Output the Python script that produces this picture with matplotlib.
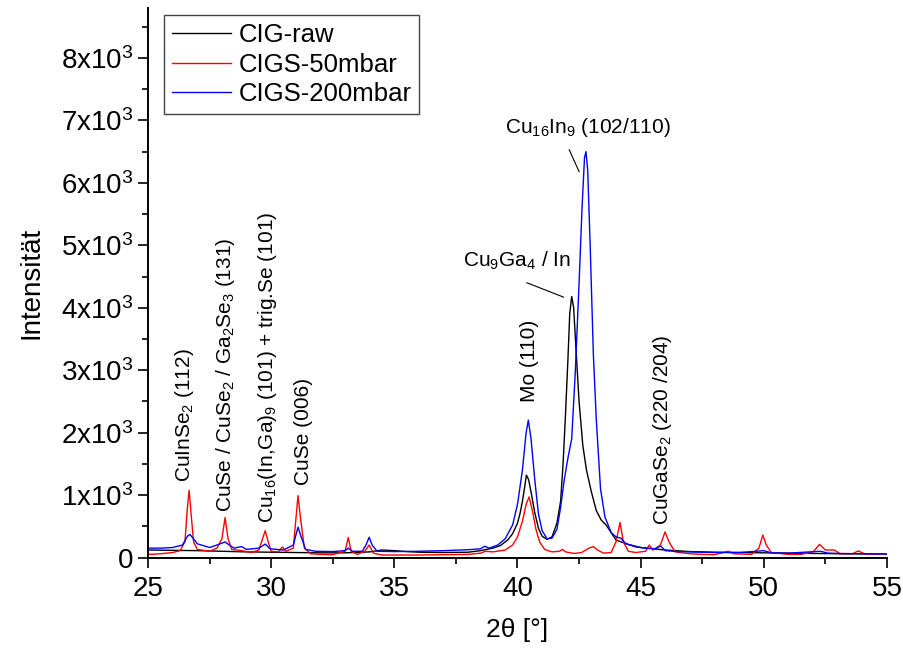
import matplotlib
matplotlib.use("Agg")
import matplotlib.pyplot as plt
from matplotlib.ticker import MultipleLocator

plt.rcParams['font.family'] = ['Liberation Sans', 'DejaVu Sans']
plt.rcParams['mathtext.fontset'] = 'custom'
plt.rcParams['mathtext.rm'] = 'Liberation Sans'
plt.rcParams['mathtext.it'] = 'Liberation Sans:italic'
plt.rcParams['mathtext.bf'] = 'Liberation Sans:bold'

# CIG-raw
x_raw = [25, 26, 27, 28, 29, 30, 31, 32, 33, 34, 34.5, 35, 35.5, 36, 37, 38, 38.5, 39, 39.3,
         39.6, 39.8, 40.0, 40.1, 40.2, 40.3, 40.36, 40.45, 40.55, 40.7, 40.85, 41.0, 41.2,
         41.4, 41.6, 41.75, 41.85, 41.95, 42.05, 42.12, 42.2, 42.28, 42.38, 42.5, 42.65,
         42.8, 43.0, 43.2, 43.4, 43.6, 43.8, 44.0, 44.5, 45, 46, 47, 48, 50, 52, 55]
y_raw = [120, 115, 110, 100, 90, 85, 80, 75, 75, 90, 120, 110, 95, 85, 80, 85, 110, 150, 190,
         280, 380, 550, 700, 900, 1150, 1320, 1250, 1050, 720, 470, 340, 290,
         330, 550, 900, 1500, 2300, 3200, 3900, 4180, 4000, 3300, 2500, 1800,
         1400, 1050, 750, 600, 520, 400, 280, 210, 160, 120, 95, 85, 75, 65, 55]

# CIGS-50mbar
x_50 = [25, 25.5, 26, 26.3, 26.5, 26.6, 26.67, 26.75, 26.85, 27, 27.5, 27.8, 28.0, 28.13,
        28.25, 28.4, 28.8, 29.2, 29.5, 29.65, 29.76, 29.88, 30.0, 30.3, 30.45, 30.6, 30.9,
        31.0, 31.09, 31.2, 31.35, 31.6, 32, 32.5, 33.0, 33.13, 33.25, 33.5, 33.8, 33.98,
        34.15, 34.5, 35, 36, 37, 38, 38.5, 38.7, 39, 39.5, 39.8, 40.0, 40.2, 40.35, 40.47,
        40.6, 40.75, 40.9, 41.1, 41.4, 41.7, 41.83, 41.95, 42.3, 42.6, 42.9, 43.08, 43.25,
        43.5, 43.8, 44.0, 44.16, 44.3, 44.5, 44.8, 45.2, 45.35, 45.5, 45.8, 45.99, 46.15,
        46.4, 47, 47.5, 48, 48.55, 48.8, 49.5, 49.8, 49.96, 50.1, 50.3, 51, 51.5, 52.0,
        52.26, 52.5, 52.86, 53.1, 53.6, 53.83, 54.1, 55]
y_50 = [50, 60, 80, 110, 250, 800, 1077, 700, 250, 130, 100, 150, 300, 640,
        300, 130, 110, 80, 120, 300, 430, 250, 100, 90, 170, 100, 150,
        600, 990, 600, 150, 60, 50, 45, 100, 320, 100, 50, 100, 200,
        70, 40, 40, 40, 45, 50, 70, 100, 90, 120, 200, 330, 580, 850, 970,
        760, 450, 250, 130, 90, 100, 130, 90, 65, 80, 150, 175, 120,
        70, 80, 250, 560, 250, 100, 80, 100, 200, 120, 200, 410, 250,
        90, 60, 50, 45, 100, 60, 50, 150, 360, 200, 80, 50, 50, 90,
        210, 120, 120, 60, 60, 105, 60, 50]

# CIGS-200mbar
x_200 = [25, 25.5, 26, 26.4, 26.6, 26.7, 26.85, 27.0, 27.5, 27.8, 28.0, 28.13, 28.3, 28.5,
         28.8, 29.0, 29.5, 29.76, 29.95, 30.5, 30.9, 31.09, 31.2, 31.4, 31.8, 32.5, 33.0,
         33.13, 33.3, 33.7, 33.85, 33.98, 34.1, 34.3, 35, 36, 37, 38, 38.5, 38.67, 38.85,
         39.2, 39.5, 39.8, 40.0, 40.2, 40.35, 40.44, 40.55, 40.7, 40.85, 41.0, 41.2, 41.4,
         41.6, 41.75, 41.9, 42.05, 42.2, 42.35, 42.5, 42.62, 42.72, 42.78, 42.85, 42.95,
         43.08, 43.2, 43.37, 43.55, 43.8, 44.0, 44.2, 44.4, 44.8, 45.2, 45.6, 45.81, 46.0,
         46.5, 47, 48, 49, 50, 50.3, 51, 52.3, 52.6, 53, 54, 55]
y_200 = [150, 150, 160, 200, 340, 370, 300, 220, 160, 200, 230, 250, 200, 150,
         175, 130, 150, 215, 140, 120, 200, 487, 350, 130, 100, 95, 110,
         150, 100, 100, 200, 325, 200, 100, 95, 100, 110, 125, 140, 180, 150,
         200, 300, 520, 850, 1400, 2000, 2200, 1900, 1250, 700, 430, 300, 310,
         450, 800, 1250, 1600, 1900, 3000, 4400, 5600, 6400, 6500, 6200, 5000,
         3250, 2200, 1100, 650, 400, 330, 310, 220, 170, 150, 140, 185, 110,
         95, 90, 80, 80, 110, 75, 70, 100, 70, 65, 60, 55]

series_names = ["CIG-raw", "CIGS-50mbar", "CIGS-200mbar"]
ytick_vals = [0, 1000, 2000, 3000, 4000, 5000, 6000, 7000, 8000]
ytick_labels = ["0"] + ["%dx10$^{3}$" % k for k in range(1, 9)]

# peak labels: (x, bottom y, text)
peak_labels = [
    (26.5, 1210, "CuInSe$_{2}$ (112)"),
    (28.13, 730, "CuSe / CuSe$_{2}$ / Ga$_{2}$Se$_{3}$ (131)"),
    (29.87, 550, "Cu$_{16}$(In,Ga)$_{9}$ (101) + trig.Se (101)"),
    (31.3, 1160, "CuSe (006)"),
    (40.5, 2490, "Mo (110)"),
    (45.9, 520, "CuGaSe$_{2}$ (220 /204)"),
]

fig = plt.figure(figsize=(9.04, 6.51), dpi=100)
ax = fig.add_axes([0.1637, 0.1436, 0.8175, 0.8441])

ax.plot(x_raw, y_raw, color="black", lw=1.0, label=series_names[0])
ax.plot(x_50, y_50, color="red", lw=1.0, label=series_names[1])
ax.plot(x_200, y_200, color="blue", lw=1.0, label=series_names[2])

ax.set_xlim(25, 55)
ax.set_ylim(0, 8800)
ax.xaxis.set_major_locator(MultipleLocator(5))
ax.xaxis.set_minor_locator(MultipleLocator(2.5))
ax.set_yticks(ytick_vals)
ax.set_yticklabels(ytick_labels)
ax.yaxis.set_minor_locator(MultipleLocator(500))
ax.tick_params(which="major", direction="out", length=7, width=1.2, labelsize=20)
ax.tick_params(which="minor", direction="out", length=4, width=1.2)
ax.tick_params(axis="x", pad=6)
for s in ["top", "right"]:
    ax.spines[s].set_visible(False)
for s in ["left", "bottom"]:
    ax.spines[s].set_linewidth(1.4)

ax.set_xlabel("2θ [°]", fontsize=19, labelpad=12)
ax.set_ylabel("Intensität", fontsize=20, labelpad=12)

for px, py, txt in peak_labels:
    ax.text(px, py, txt, rotation=90, ha="center", va="bottom", fontsize=15)

ax.text(39.96, 4750, "Cu$_{9}$Ga$_{4}$ / In", ha="center", va="center", fontsize=15)
ax.plot([40.38, 41.87], [4400, 4170], color="black", lw=0.8)
ax.text(42.85, 6890, "Cu$_{16}$In$_{9}$ (102/110)", ha="center", va="center", fontsize=15)
ax.plot([42.1, 42.5], [6530, 6180], color="black", lw=0.8)

leg = ax.legend(loc="upper left", bbox_to_anchor=(0.022, 0.987), borderaxespad=0,
                fontsize=18.5, fancybox=False, framealpha=1, edgecolor="#444444",
                handlelength=2.3, handletextpad=0.3, labelspacing=0.22, borderpad=0.3)
leg.get_frame().set_linewidth(1.0)

fig.savefig("out.png", dpi=100)
